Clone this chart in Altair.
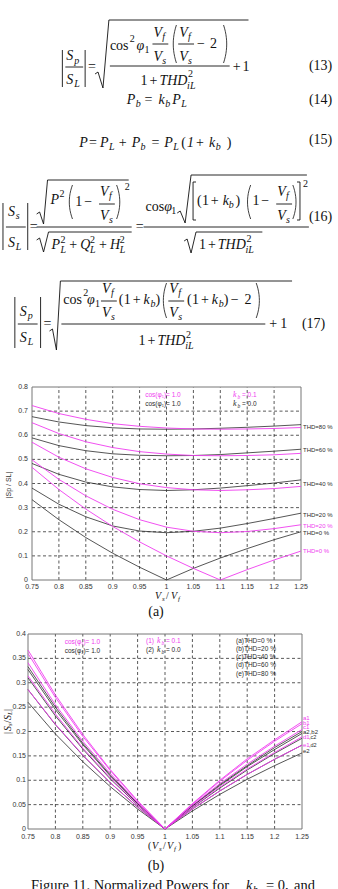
import altair as alt
import pandas as pd

# ---------------- data ----------------
VS_VF = [0.75, 0.80, 0.85, 0.90, 0.95, 1.00, 1.05, 1.10, 1.15, 1.20, 1.25]
X_TICK_LABELS = ["0.75", "0.8", "0.85", "0.9", "0.95", "1", "1.05", "1.1", "1.15", "1.2", "1.25"]

YA_TICKS = [0, 0.1, 0.2, 0.3, 0.4, 0.5, 0.6, 0.7, 0.8]
YA_LABELS = ["0", "0.1", "0.2", "0.3", "0.4", "0.5", "0.6", "0.7", "0.8"]
YB_TICKS = [0, 0.05, 0.1, 0.15, 0.2, 0.25, 0.3, 0.35, 0.4]
YB_LABELS = ["0", "0.05", "0.1", "0.15", "0.2", "0.25", "0.3", "0.35", "0.4"]

# (a) |Sp/SL| ; kb = 0.0 (black)
SP_K0_THD0 = [0.333, 0.250, 0.176, 0.111, 0.053, 0.000, 0.048, 0.091, 0.130, 0.167, 0.200]
SP_K0_THD20 = [0.381, 0.314, 0.262, 0.224, 0.203, 0.196, 0.202, 0.215, 0.234, 0.255, 0.277]
SP_K0_THD40 = [0.483, 0.438, 0.406, 0.386, 0.375, 0.371, 0.374, 0.381, 0.391, 0.402, 0.415]
SP_K0_THD60 = [0.589, 0.557, 0.536, 0.523, 0.517, 0.515, 0.516, 0.520, 0.527, 0.534, 0.542]
SP_K0_THD80 = [0.677, 0.655, 0.640, 0.631, 0.626, 0.625, 0.626, 0.629, 0.633, 0.638, 0.644]
# (a) |Sp/SL| ; kb = 0.1 (magenta)
SP_K1_THD0 = [0.467, 0.375, 0.294, 0.222, 0.158, 0.100, 0.048, 0.000, 0.043, 0.083, 0.120]
SP_K1_THD20 = [0.498, 0.417, 0.349, 0.293, 0.250, 0.219, 0.202, 0.196, 0.201, 0.213, 0.229]
SP_K1_THD40 = [0.571, 0.509, 0.461, 0.425, 0.399, 0.383, 0.374, 0.371, 0.374, 0.379, 0.388]
SP_K1_THD60 = [0.652, 0.607, 0.573, 0.549, 0.532, 0.522, 0.516, 0.515, 0.516, 0.519, 0.525]
SP_K1_THD80 = [0.723, 0.690, 0.666, 0.648, 0.637, 0.630, 0.626, 0.625, 0.626, 0.628, 0.632]

# (b) |Ss/SL| ; kb = 0.0 (black)
SS_K0_THD0 = [0.333, 0.250, 0.176, 0.111, 0.053, 0.000, 0.048, 0.091, 0.130, 0.167, 0.200]
SS_K0_THD20 = [0.327, 0.245, 0.173, 0.109, 0.052, 0.000, 0.047, 0.089, 0.128, 0.163, 0.196]
SS_K0_THD40 = [0.310, 0.232, 0.164, 0.103, 0.049, 0.000, 0.044, 0.084, 0.121, 0.155, 0.186]
SS_K0_THD60 = [0.286, 0.214, 0.151, 0.095, 0.045, 0.000, 0.041, 0.078, 0.112, 0.143, 0.172]
SS_K0_THD80 = [0.260, 0.195, 0.138, 0.087, 0.041, 0.000, 0.037, 0.071, 0.102, 0.130, 0.156]
# (b) |Ss/SL| ; kb = 0.1 (magenta)
SS_K1_THD0 = [0.367, 0.275, 0.194, 0.122, 0.058, 0.000, 0.052, 0.100, 0.144, 0.183, 0.220]
SS_K1_THD20 = [0.360, 0.270, 0.190, 0.120, 0.057, 0.000, 0.051, 0.098, 0.141, 0.180, 0.216]
SS_K1_THD40 = [0.341, 0.255, 0.180, 0.114, 0.054, 0.000, 0.049, 0.093, 0.133, 0.170, 0.204]
SS_K1_THD60 = [0.314, 0.236, 0.166, 0.105, 0.050, 0.000, 0.045, 0.086, 0.123, 0.157, 0.189]
SS_K1_THD80 = [0.286, 0.215, 0.152, 0.095, 0.045, 0.000, 0.041, 0.078, 0.112, 0.143, 0.172]

# end-of-line labels
A_END_TEXT = ["THD=80 %", "THD=60 %", "THD=40 %", "THD=20 %", "THD=20 %", "THD=0 %", "THD=0 %"]
A_END_Y = [0.636, 0.537, 0.400, 0.269, 0.225, 0.194, 0.119]
A_END_COL = ["k", "k", "k", "k", "m", "k", "m"]
B_END_TEXT = ["a1", "b1", "c1", "a2,b2", "d1", "e1", "e2"]
B_END_Y = [0.228, 0.218, 0.209, 0.198, 0.188, 0.173, 0.160]
B_END_COL = ["m", "m", "m", "k", "m", "m", "k"]
B_END2_TEXT = [",c2", ",d2"]
B_END2_Y = [0.188, 0.173]

THD_LEGEND = ["(a)THD=0    %", "(b)THD=20 %", "(c)THD=40 %", "(d)THD=60 %", "(e)THD=80 %"]

# ---------------- styling ----------------
MAG = "#ef3cef"
BLK = "#2b2b2b"
SERIF = "Liberation Serif"
SANS = "Liberation Sans"
COLMAP = {"k": BLK, "m": MAG}


def long_df(series):
    rows = []
    for name, ys in series.items():
        for i, (x, y) in enumerate(zip(VS_VF, ys)):
            rows.append({"series": name, "i": i, "x": x, "y": y})
    return pd.DataFrame(rows)


def panel(xs, ys, y_ticks, y_labels, black, mag, xlab_y, ylab_x, end_df, end2_df):
    X = lambda f: alt.X(f, type="quantitative", scale=xs, axis=None)
    Y = lambda f: alt.Y(f, type="quantitative", scale=ys, axis=None)
    ymax = y_ticks[-1]
    gv = pd.DataFrame({"x": VS_VF[1:-1], "y0": 0.0, "y1": ymax})
    gh = pd.DataFrame({"y": y_ticks[1:-1], "x0": 0.75, "x1": 1.25})
    box = pd.DataFrame({"x0": [0.75], "x1": [1.25], "y0": [0.0], "y1": [ymax]})
    layers = [
        alt.Chart(gv).mark_rule(color="#111", strokeWidth=0.7, strokeDash=[3, 2.5]).encode(
            x=X("x"), y=Y("y0"), y2="y1"),
        alt.Chart(gh).mark_rule(color="#111", strokeWidth=0.7, strokeDash=[3, 2.5]).encode(
            y=Y("y"), x=X("x0"), x2="x1"),
        alt.Chart(box).mark_rect(fillOpacity=0, stroke="#777", strokeWidth=1).encode(
            x=X("x0"), x2="x1", y=Y("y0"), y2="y1"),
        alt.Chart(long_df(black)).mark_line(color=BLK, strokeWidth=0.8).encode(
            x=X("x"), y=Y("y"), detail="series:N", order="i:Q"),
        alt.Chart(long_df(mag)).mark_line(color=MAG, strokeWidth=0.9).encode(
            x=X("x"), y=Y("y"), detail="series:N", order="i:Q"),
        alt.Chart(pd.DataFrame({"x": VS_VF, "lab": X_TICK_LABELS})).mark_text(
            font=SANS, fontSize=7, color="#333", baseline="middle").encode(
            x=X("x"), y=alt.value(xlab_y), text="lab:N"),
        alt.Chart(pd.DataFrame({"y": y_ticks, "lab": y_labels})).mark_text(
            font=SANS, fontSize=7, color="#333", baseline="middle", align="right").encode(
            y=Y("y"), x=alt.value(ylab_x), text="lab:N"),
        alt.Chart(end_df).mark_text(font=SANS, fontSize=6, baseline="middle", align="left").encode(
            y=Y("y"), x=alt.value(303), text="t:N", color=alt.Color("c:N", scale=None)),
    ]
    if end2_df is not None:
        layers.append(alt.Chart(end2_df).mark_text(font=SANS, fontSize=5.5, baseline="middle",
                                                   align="left", color=BLK).encode(
            y=Y("y"), x=alt.value(309), text="t:N"))
    return alt.layer(*layers)


xa = alt.Scale(domain=[0.75, 1.25], range=[32, 301], nice=False, zero=False)
ya = alt.Scale(domain=[0, 0.8], range=[580, 387], nice=False, zero=False)
xb = alt.Scale(domain=[0.75, 1.25], range=[28, 302], nice=False, zero=False)
yb = alt.Scale(domain=[0, 0.4], range=[829, 634], nice=False, zero=False)

endA = pd.DataFrame({"y": A_END_Y, "t": A_END_TEXT, "c": [COLMAP[c] for c in A_END_COL]})
endB = pd.DataFrame({"y": B_END_Y, "t": B_END_TEXT, "c": [COLMAP[c] for c in B_END_COL]})
endB2 = pd.DataFrame({"y": B_END2_Y, "t": B_END2_TEXT})

panelA = panel(xa, ya, YA_TICKS, YA_LABELS,
               {"0": SP_K0_THD0, "20": SP_K0_THD20, "40": SP_K0_THD40, "60": SP_K0_THD60, "80": SP_K0_THD80},
               {"0": SP_K1_THD0, "20": SP_K1_THD20, "40": SP_K1_THD40, "60": SP_K1_THD60, "80": SP_K1_THD80},
               587, 28, endA, None)
panelB = panel(xb, yb, YB_TICKS, YB_LABELS,
               {"0": SS_K0_THD0, "20": SS_K0_THD20, "40": SS_K0_THD40, "60": SS_K0_THD60, "80": SS_K0_THD80},
               {"0": SS_K1_THD0, "20": SS_K1_THD20, "40": SS_K1_THD40, "60": SS_K1_THD60, "80": SS_K1_THD80},
               837, 26, endB, endB2)

# ---------------- page layout: equations and captions (pixel positions) ----------------
SX = 0.99
TXT = []
LN = []


def put(s, x, y, size=14, style="italic", font=SERIF, color="#111", align="left", angle=0, eq=True):
    TXT.append(dict(s=s, px=x * SX if eq else x, py=y, fs=size, st=style, font=font, c=color,
                    al=align, ang=angle))


def n(s, x, y, size=14):
    put(s, x, y, size, "normal")


def poly(pts, w=0.9):
    k = len(LN)
    for i, (x, y) in enumerate(pts):
        LN.append(dict(id=k, i=i, px=x * SX, py=y, w=w))
    LN.append(None)


def paren(x, y0, y1, left=True, bulge=3.2):
    pts = []
    for k in range(13):
        u = -1 + 2 * k / 12
        y = (y0 + y1) / 2 + u * (y1 - y0) / 2
        d = bulge * u * u
        pts.append((x + d if left else x - d, y))
    poly(pts, 0.8)


def frac_v(x, ytop, ybar, ybot, sub_top="f", sub_bot="s"):
    put("V", x, ytop); put(sub_top, x + 9, ytop + 4, 10)
    poly([(x - 1, ybar), (x + 15, ybar)])
    put("V", x, ybot); put(sub_bot, x + 9, ybot + 4, 10)


# (13)
poly([(63, 50), (63, 87)]); poly([(86, 50), (86, 87)])
put("S", 67, 56); put("p", 75, 61, 10)
poly([(66, 67), (84, 67)])
put("S", 67, 80); put("L", 75, 84, 10)
n("=", 89, 67)
poly([(96, 74), (99, 72), (104, 88), (110, 20), (251, 20)])
n("cos", 111, 46); n("2", 131, 39, 10); put("φ", 138, 46); n("1", 146, 50, 10)
frac_v(155, 33, 44, 57)
paren(175, 25, 63, True)
frac_v(181, 33, 44, 57)
n("−", 199, 44); n("2", 212, 44)
paren(229, 25, 63, False)
poly([(111, 66), (232, 66)])
n("1", 142, 81); n("+", 151, 81); put("THD", 161, 81); n("2", 190, 74, 10); put("iL", 189, 86, 10)
n("+", 235, 67); n("1", 245, 67)
n("(13)", 312, 66)

# (14)
put("P", 128, 100); put("b", 137, 104, 10); n("=", 146, 100); put("k", 160, 100); put("b", 167, 104, 10)
put("P", 174, 100); put("L", 183, 104, 10)
n("(14)", 312, 100)

# (15)
put("P", 80, 143); n("=", 90, 143); put("P", 101, 143); put("L", 110, 147, 10); n("+", 120, 143)
put("P", 133, 143); put("b", 142, 147, 10); n("=", 153, 143); put("P", 166, 143); put("L", 175, 147, 10)
n("(", 183, 143); put("1", 189, 143); n("+", 198, 143); put("k", 211, 143); put("b", 218, 147, 10)
n(")", 229, 143)
n("(15)", 312, 140)

# (16)
poly([(3, 203), (3, 250)]); poly([(28, 203), (28, 250)])
put("S", 8, 212); put("s", 16, 216, 10)
poly([(6, 227), (26, 227)])
put("S", 8, 243); put("L", 16, 247, 10)
n("=", 30, 227)
poly([(37, 214), (40, 212), (44, 224), (48, 180), (130, 180)])
put("P", 51, 200); n("2", 60, 194, 10)
paren(70, 185, 219, True)
n("1", 76, 202); n("−", 85, 202)
frac_v(101, 192, 204, 216)
paren(121, 185, 219, False)
n("2", 126, 187, 10)
poly([(37, 227), (133, 227)])
poly([(37, 240), (40, 238), (44, 252), (49, 232), (133, 232)])
put("P", 52, 245); n("2", 61, 240, 10); put("L", 61, 250, 10); n("+", 70, 245)
put("Q", 81, 245); n("2", 91, 240, 10); put("L", 91, 250, 10); n("+", 100, 245)
put("H", 111, 245); n("2", 121, 240, 10); put("L", 121, 250, 10)
n("=", 137, 227)
n("cos", 147, 207); put("φ", 166, 207); n("1", 173, 211, 10)
poly([(179, 213), (182, 211), (187, 223), (193, 175), (310, 175)])
poly([(198, 182), (195, 182), (195, 220), (198, 220)])
n("(", 199, 201); n("1", 204, 201); n("+", 213, 201); put("k", 225, 201); put("b", 231, 205, 10); n(")", 238, 201)
paren(250, 185, 219, True)
n("1", 255, 201); n("−", 264, 201)
frac_v(280, 192, 204, 216)
paren(299, 185, 219, False)
poly([(300, 182), (303, 182), (303, 220), (300, 220)])
n("2", 306, 184, 10)
poly([(145, 227), (312, 227)])
poly([(186, 241), (189, 239), (193, 253), (198, 232), (265, 232)])
n("1", 201, 245); n("+", 210, 245); put("THD", 220, 245); n("2", 249, 239, 10); put("iL", 248, 250, 10)
n("(16)", 312, 217)

# (17)
poly([(15, 297), (15, 348)]); poly([(41, 297), (41, 348)])
put("S", 20, 312); put("p", 28, 316, 10)
poly([(18, 324), (38, 324)])
put("S", 20, 338); put("L", 28, 342, 10)
n("=", 44, 324)
poly([(50, 331), (53, 329), (57, 350), (61, 281), (295, 281)])
n("cos", 64, 300); n("2", 84, 293, 10); put("φ", 88, 300); n("1", 96, 304, 10)
frac_v(103, 289, 301, 313)
n("(", 120, 300); n("1", 125, 300); n("+", 134, 300); put("k", 145, 300); put("b", 152, 304, 10); n(")", 157, 300)
paren(165, 283, 318, True)
frac_v(171, 289, 301, 313)
n("(", 189, 300); n("1", 194, 300); n("+", 203, 300); put("k", 214, 300); put("b", 221, 304, 10); n(")", 226, 300)
n("−", 233, 300); n("2", 247, 300)
paren(262, 283, 318, False)
poly([(62, 324), (268, 324)])
n("1", 140, 341); n("+", 149, 341); put("THD", 159, 341); n("2", 188, 335, 10); put("iL", 187, 346, 10)
n("+", 272, 324); n("1", 283, 324)
n("(17)", 305, 324)

# chart (a) annotations
put("cos(φ₁)= 1.0", 163, 395, 6.5, "normal", SANS, MAG, "center", eq=False)
put("cos(φ₁)= 1.0", 163, 404, 6.5, "normal", SANS, BLK, "center", eq=False)
for yy, col, val in [(395, MAG, "= 0.1"), (404, BLK, "= 0.0")]:
    put("k", 233, yy, 8, "italic", SERIF, col, eq=False)
    put("b", 237.5, yy + 2, 5.5, "italic", SERIF, col, eq=False)
    put(val, 242, yy, 6.5, "normal", SANS, col, eq=False)
put("|Sp / SL|", 9, 485, 7, "normal", SANS, "#333", "center", 270, eq=False)
put("V", 155, 596, 10, eq=False); put("s", 162, 599, 7, eq=False); put("/", 166, 596, 10, "normal", eq=False)
put("V", 171, 596, 10, eq=False); put("f", 178, 599, 7, eq=False)
put("(a)", 156, 612, 14, "normal", align="center", eq=False)

# chart (b) annotations
put("cos(φ₁)= 1.0", 82.5, 641.5, 6.5, "normal", SANS, MAG, "center", eq=False)
put("cos(φ₁)= 1.0", 82.5, 650.5, 6.5, "normal", SANS, BLK, "center", eq=False)
for yy, col, pre, val in [(640.5, MAG, "(1)", "= 0.1"), (650, BLK, "(2)", "= 0.0")]:
    put(pre, 146, yy, 6.5, "normal", SANS, col, eq=False)
    put("k", 157, yy, 8, "italic", SERIF, col, eq=False)
    put("b", 161.5, yy + 2, 5.5, "italic", SERIF, col, eq=False)
    put(val, 166, yy, 6.5, "normal", SANS, col, eq=False)
for yy, lab in zip([640.5, 649, 657, 665.2, 673.5], THD_LEGEND):
    put(lab, 236, yy, 6.5, "normal", SANS, BLK, eq=False)
for s, yy, xx, sz, st in [("|", 734, 8, 10, "normal"), ("S", 731, 8, 10, "italic"), ("s", 726, 10, 7, "italic"),
                          ("/", 723, 8, 10, "normal"), ("S", 720, 8, 10, "italic"), ("L", 715, 10, 7, "italic"),
                          ("|", 711, 8, 10, "normal")]:
    put(s, xx, yy, sz, st, SERIF, "#222", "left", 270, eq=False)
put("(", 148, 846, 10, "normal", eq=False); put("V", 152, 846, 10, eq=False); put("s", 159, 849, 7, eq=False)
put("/", 163, 846, 10, "normal", eq=False); put("V", 167, 846, 10, eq=False); put("f", 174, 849, 7, eq=False)
put(")", 178, 846, 10, "normal", eq=False)
put("(b)", 156, 865.5, 14, "normal", align="center", eq=False)

# caption (cut by the page edge, as in the reference)
put("Figure 11. Normalized Powers for", 31, 886, 14.5, "normal", eq=False)
put("k", 246, 886, 14.5, eq=False); put("b", 253, 890, 10, eq=False)
put("= 0,", 266, 886, 14.5, "normal", eq=False); put("and", 294, 886, 14.5, "normal", eq=False)

tdf = pd.DataFrame(TXT)
text_layers = []
for (font, st, al), g in tdf.groupby(["font", "st", "al"]):
    text_layers.append(
        alt.Chart(g.reset_index(drop=True)).mark_text(font=font, fontStyle=st, align=al, baseline="middle").encode(
            x=alt.X("px:Q", scale=None, axis=None),
            y=alt.Y("py:Q", scale=None, axis=None),
            text="s:N",
            size=alt.Size("fs:Q", scale=None),
            color=alt.Color("c:N", scale=None),
            angle=alt.Angle("ang:Q", scale=None),
        ))

ldf = pd.DataFrame([r for r in LN if r is not None])
line_layer = alt.Chart(ldf).mark_line(color="#111").encode(
    x=alt.X("px:Q", scale=None, axis=None),
    y=alt.Y("py:Q", scale=None, axis=None),
    detail="id:N", order="i:Q",
    strokeWidth=alt.StrokeWidth("w:Q", scale=None))

chart = alt.layer(line_layer, *text_layers, panelA, panelB).resolve_scale(
    x="independent", y="independent").properties(
    width=338, height=889, padding=0, autosize=alt.AutoSizeParams(type="none"),
    background="white").configure_view(stroke=None)

chart.save("out.html", embed_options={"renderer": "svg", "actions": False})
